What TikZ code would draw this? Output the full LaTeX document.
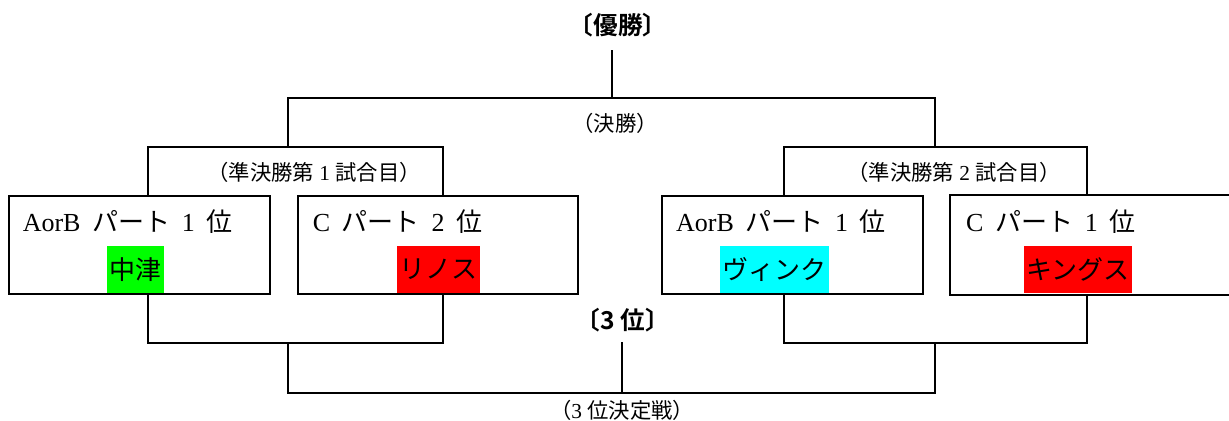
\documentclass[tikz,border=0pt]{standalone}
\usepackage{fontspec}
\setmainfont{Liberation Serif}
\newfontfamily\jp{Noto Sans CJK JP}[BoldFont={Noto Sans CJK JP Bold}]
\usetikzlibrary{positioning,calc}

\definecolor{teamgreen}{RGB}{0,255,0}
\definecolor{teamred}{RGB}{255,0,0}
\definecolor{teamcyan}{RGB}{0,255,255}
\newcommand{\gap}{\hspace{0.45em}}

\begin{document}
\begin{tikzpicture}[x=0.75pt,y=-0.75pt]
  \tikzstyle{box} = [rectangle,draw=black,line width=1.5pt,minimum
  height=73.5pt,inner sep=0pt]
  \tikzstyle{head} = [anchor=west,inner sep=0pt,font=\fontsize{19.5}{22}\selectfont]
  \tikzstyle{team} = [rectangle,inner xsep=2pt,inner ysep=0pt,minimum
  height=35.25pt,font=\fontsize{19.5}{22}\jp]
  \tikzstyle{lbl} = [inner sep=0pt,font=\fontsize{16}{19}\selectfont]
  \tikzstyle{rank} = [inner sep=0pt,font=\fontsize{18.5}{21}\jp\bfseries]
  \tikzstyle{line} = [line width=1.5pt,draw=black]

  \useasboundingbox (0,0) rectangle (1229,421);

  % team boxes (the last one is open at the right edge)
  \node[box,minimum width=195.75pt] (b1) at (139,245) {};
  \node[box,minimum width=210pt] (b2) at (437.5,245) {};
  \node[box,minimum width=195.75pt] (b3) at (792.3,245) {};
  \node[box,draw=none,minimum width=208.65pt] (b4) at (1089.9,245) {};
  \draw[line] (b4.north east) -| (b4.south west) -- (b4.south east);

  \node[head] (h1) at ($(b1.west)+(15,-23)$) {AorB\gap{\jp パート}\gap 1\gap{\jp 位}};
  \node[head] (h2) at ($(b2.west)+(16,-23)$) {C\gap{\jp パート}\gap 2\gap{\jp 位}};
  \node[head] (h3) at ($(b3.west)+(15,-23)$) {AorB\gap{\jp パート}\gap 1\gap{\jp 位}};
  \node[head] (h4) at ($(b4.west)+(16,-23)$) {C\gap{\jp パート}\gap 1\gap{\jp 位}};

  \node[team,fill=teamgreen] (nakatsu) at (135.5,269.5) {中津};
  \node[team,fill=teamred] (rinos) at (438.5,269.5) {リノス};
  \node[team,fill=teamcyan] (wink) at (774.5,269.5) {ヴィンク};
  \node[team,fill=teamred] (kings) at (1078,269.5) {キングス};

  % titles and match labels
  \node[rank,minimum height=37.5pt] (champ) at (618,25) {〔優勝〕};
  \node[rank,minimum height=33pt] (third) at (623,320) {〔3 位〕};
  \node[lbl] (finlbl) at (615,123) {{\jp （決勝）}};
  \node[lbl] (sf1lbl) at (314,172) {{\jp （準決勝第} 1 {\jp 試合目）}};
  \node[lbl] (sf2lbl) at (954,172) {{\jp （準決勝第} 2 {\jp 試合目）}};
  \node[lbl] (thlbl) at (622,410) {{\jp （}3 {\jp 位決定戦）}};

  % upper bracket
  \coordinate (q1) at ($(b1.north)+(9,0)$);
  \coordinate (q2) at ($(b2.north)+(5.5,0)$);
  \coordinate (q3) at ($(b3.north)+(-8.5,0)$);
  \coordinate (q4) at ($(b4.north)+(-3.4,0)$);
  \coordinate (sf1) at (288,147);
  \coordinate (sf2) at (935,147);
  \coordinate (fin) at (612,98);

  \draw[line] (q1) |- (sf1) -| (q2);
  \draw[line] (q3) |- (sf2) -| (q4);
  \draw[line] (sf1) |- (fin) -| (sf2);
  \draw[line] (fin) -- (fin |- champ.south);

  % lower bracket
  \coordinate (p1) at ($(b1.south)+(9,0)$);
  \coordinate (p2) at ($(b2.south)+(5.5,0)$);
  \coordinate (p3) at ($(b3.south)+(-8.5,0)$);
  \coordinate (p4) at ($(b4.south)+(-3.4,0)$);
  \coordinate (tp1) at (288,343);
  \coordinate (tp2) at (935,343);
  \coordinate (bot) at (622,393);

  \draw[line] (p1) |- (tp1) -| (p2);
  \draw[line] (p3) |- (tp2) -| (p4);
  \draw[line] (tp1) |- (bot) -| (tp2);
  \draw[line] (bot) -- (bot |- third.south);

\end{tikzpicture}
\end{document}
